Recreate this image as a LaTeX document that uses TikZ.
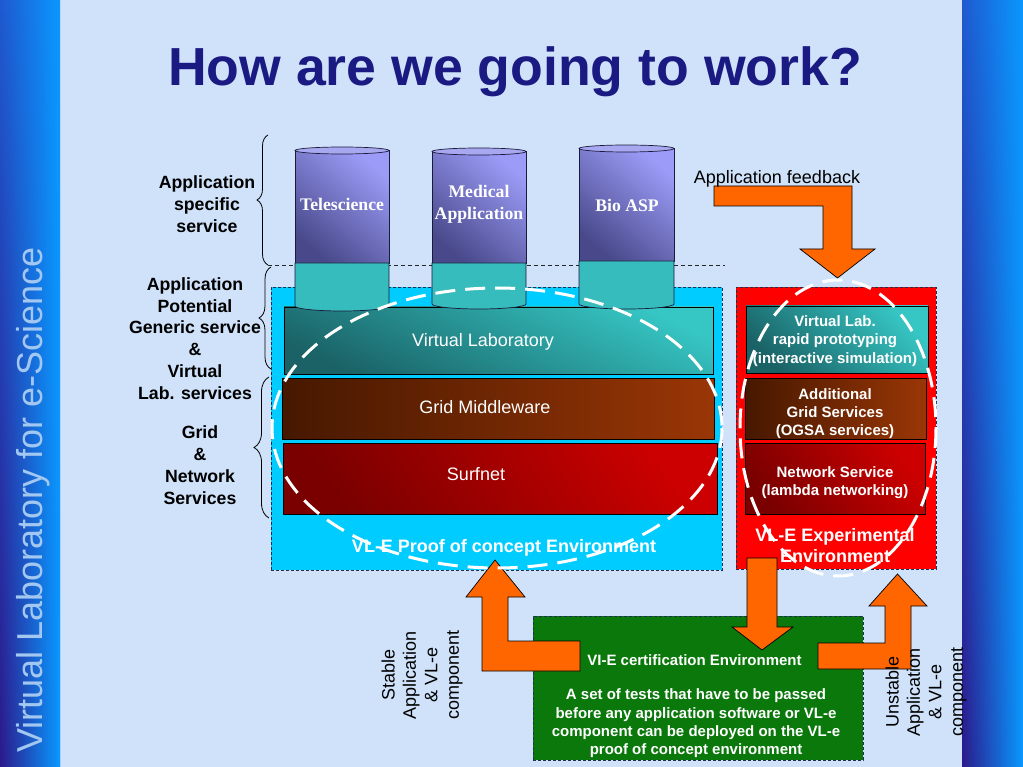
\documentclass[tikz,border=0pt]{standalone}
\usepackage{fontspec}
\setmainfont{Liberation Sans}
\newfontfamily\timesfam{Liberation Serif}
\usetikzlibrary{decorations.pathreplacing,fadings}

\definecolor{bgblue}{HTML}{CFE2FA}
\definecolor{sbtop}{HTML}{1F5AD0}
\definecolor{sbdark}{HTML}{2C1A8C}
\definecolor{sbbright}{HTML}{0A98FF}
\definecolor{sbtext}{HTML}{A2C8F2}
\definecolor{titleblue}{HTML}{1A1A82}
\definecolor{tealL}{HTML}{36C6C4}
\definecolor{tealD}{HTML}{1A6266}
\definecolor{brownD}{HTML}{461800}
\definecolor{brownL}{HTML}{9A3606}
\definecolor{redD}{HTML}{7A0000}
\definecolor{redL}{HTML}{CC0000}
\definecolor{cylL}{HTML}{9C9CF8}
\definecolor{cylD}{HTML}{48488A}
\definecolor{cylCap}{HTML}{A8A8F0}
\definecolor{cylTeal}{HTML}{36BCBC}
\definecolor{cylline}{HTML}{1A1A3A}
\definecolor{poccyan}{HTML}{00CCFF}
\definecolor{expred}{HTML}{FF0000}
\definecolor{certgreen}{HTML}{0A780A}
\definecolor{arroworange}{HTML}{FF6600}
\definecolor{boxedge}{HTML}{203050}

\tikzset{
  envbox/.style={draw=boxedge, line width=0.8pt, dash pattern=on 3pt off 2pt, inner sep=0pt},
  layerbox/.style={draw=black, line width=0.7pt, inner sep=0pt},
  tealshade/.style={top color=tealL, bottom color=tealD, shading angle=-25},
  brownshade/.style={left color=brownD, right color=brownL},
  redshade/.style={top color=redL, bottom color=redD, shading angle=-55},
  layertext/.style={text=white, font=\fontsize{18}{21}\selectfont, inner sep=0pt},
  smalltext/.style={text=white, font=\bfseries\fontsize{15}{18.3}\selectfont, align=center, inner sep=0pt},
  envlabel/.style={text=white, font=\bfseries\fontsize{18}{21}\selectfont, align=center, inner sep=0pt},
  sidelabel/.style={font=\bfseries\fontsize{17.7}{21.8}\selectfont, align=center, inner sep=0pt},
  cyltext/.style={text=white, font=\timesfam\bfseries\fontsize{17.7}{22}\selectfont, align=center, inner sep=0pt},
  rottext/.style={font=\fontsize{18}{21.4}\selectfont, align=center, rotate=90, inner sep=0pt},
  fatarrow/.style={fill=arroworange, draw=black, line width=0.7pt, line join=miter},
  whitering/.style={draw=white, line width=3pt, dash pattern=on 20pt off 10pt},
  bracestyle/.style={draw=black, line width=0.8pt, decorate},
}

\newcommand\appcyl[7]{%
  \shade[top color=cylL, bottom color=cylD, shading angle=-40, draw=cylline, line width=0.7pt]
    (#1,#4) -- (#1,#5) -- (#2,#5) -- (#2,#4) -- cycle;
  \filldraw[fill=cylTeal, draw=cylline, line width=0.7pt]
    (#1,#5) -- (#1,#6) arc[start angle=180, end angle=0, x radius=#7, y radius=5] -- (#2,#5) -- cycle;
  \filldraw[fill=cylCap, draw=cylline, line width=0.7pt] (#3,#4) ellipse [x radius=#7, y radius=3.5];
}

\begin{document}
\begin{tikzpicture}[x=1pt,y=-1pt]
\useasboundingbox (0,0) rectangle (1023,767);
\fill[bgblue] (0,0) rectangle (1023,767);

% side bars
\shade[left color=sbtop, right color=sbbright] (0,0) rectangle (60,767);
\shade[left color=sbdark, right color=sbbright, path fading=north] (0,0) rectangle (60,767);
\shade[left color=sbtop, right color=sbbright] (962,0) rectangle (1023,767);
\shade[left color=sbdark, right color=sbbright, path fading=north] (962,0) rectangle (1023,767);
\node[rotate=90, anchor=base, text=sbtext, font=\fontsize{36}{36}\selectfont, inner sep=0pt] (sbtitle) at (42,500) {Virtual Laboratory for e-Science};

% title
\node[anchor=base, text=titleblue, font=\bfseries\fontsize{53.6}{60}\selectfont, inner sep=0pt] (title) at (515,86) {How are we going to work?};

% left labels and braces
\node[sidelabel] (lab1) at (207,204) {Application\\specific\\service};
\node[sidelabel] (lab2) at (195,338.5) {Application\\Potential\\Generic service\\\&\\Virtual\\Lab. services};
\node[sidelabel] (lab3) at (200,465) {Grid\\\&\\Network\\Services};
\draw[bracestyle, decoration={brace, amplitude=11pt}] (268,265) -- (268,135);
\draw[bracestyle, decoration={brace, amplitude=12pt}] (271,369) -- (271,267);
\draw[bracestyle, decoration={brace, amplitude=15pt}] (269,518) -- (269,377);
\draw[line width=0.8pt, black!85, dash pattern=on 4pt off 3pt] (268,265) -- (725,265);

% environment boxes
\node[envbox, fill=poccyan, minimum width=451pt, minimum height=283pt] (poc) at (496.5,428.5) {};
\node[envbox, fill=expred, minimum width=200pt, minimum height=282pt] (exp) at (836,428) {};

% layers
\node[layerbox, tealshade, minimum width=429pt, minimum height=67pt] (vlab) at (498.5,340.5) {};
\node[layerbox, brownshade, minimum width=432pt, minimum height=61pt] (gridmw) at (498,408.5) {};
\node[layerbox, redshade, minimum width=434pt, minimum height=71pt] (surf) at (500,478.5) {};
\node[layerbox, tealshade, shading angle=-45, minimum width=182pt, minimum height=67pt] (rvlab) at (837,339.5) {};
\node[layerbox, brownshade, minimum width=181pt, minimum height=61pt] (rgrid) at (835.5,408.5) {};
\node[layerbox, redshade, minimum width=180pt, minimum height=71pt] (rnet) at (835,478.5) {};

\node[layertext, anchor=base] (vlabt) at (483,347) {Virtual Laboratory};
\node[layertext, anchor=base] (gridt) at (485,413) {Grid Middleware};
\node[layertext, anchor=base] (surft) at (476,480) {Surfnet};
\node[smalltext] (rvlabt) at (835,341) {Virtual Lab.\\rapid prototyping\\(interactive simulation)};
\node[smalltext] (rgridt) at (835,413.5) {Additional\\Grid Services\\(OGSA services)};
\node[smalltext] (rnett) at (835,482.5) {Network Service\\(lambda networking)};

% cylinders
\appcyl{295}{389}{342}{150.5}{263}{306}{47}
\appcyl{432}{526}{479}{151.5}{263}{304}{47}
\appcyl{579}{674}{626.5}{148.5}{261}{304}{47.5}
\node[cyltext] (tele) at (342,204) {Telescience};
\node[cyltext] (med) at (479,204) {Medical\\Application};
\node[cyltext] (bio) at (627,205) {Bio ASP};

% environment labels
\node[envlabel, anchor=base] (pocl) at (504,552) {VL-E Proof of concept Environment};
\node[envlabel] (expl) at (835,545.5) {VL-E Experimental\\Environment};

% certification box
\node[envbox, fill=certgreen, minimum width=330pt, minimum height=144pt] (cert) at (698,688) {};
\node[smalltext] (certt) at (694.5,660) {VI-E certification Environment};
\node[smalltext] (certp) at (696,723.5) {A set of tests that have to be passed\\before any application software or VL-e\\component can be deployed on the VL-e\\proof of concept environment};

% orange arrows
\draw[fatarrow] (714,186) -- (852,186) -- (852,249) -- (875,249) -- (837.5,278) -- (800,249) -- (823,249) -- (823,206) -- (714,206) -- cycle;
\draw[fatarrow] (580,641) -- (508,641) -- (508,597) -- (525,597) -- (495,560) -- (466,597) -- (482,597) -- (482,671) -- (580,671) -- cycle;
\draw[fatarrow] (747,558) -- (777,558) -- (777,627) -- (793,627) -- (762,650) -- (732,627) -- (747,627) -- cycle;
\draw[fatarrow] (818,643) -- (885,643) -- (885,606) -- (869,606) -- (897.5,574) -- (927,606) -- (911,606) -- (911,669) -- (818,669) -- cycle;

\node[anchor=base, font=\fontsize{18}{21}\selectfont, inner sep=0pt] (feedback) at (777,184) {Application feedback};
\node[rottext] (stable) at (422,675) {Stable\\Application\\\& VL-e\\component};
\node[rottext] (unstable) at (926,692) {Unstable\\Application\\\& VL-e\\component};

% white dashed rings
\draw[whitering] (497,428) ellipse [x radius=225, y radius=140];
\draw[whitering] (838,428) ellipse [x radius=98, y radius=148];
\end{tikzpicture}
\end{document}
